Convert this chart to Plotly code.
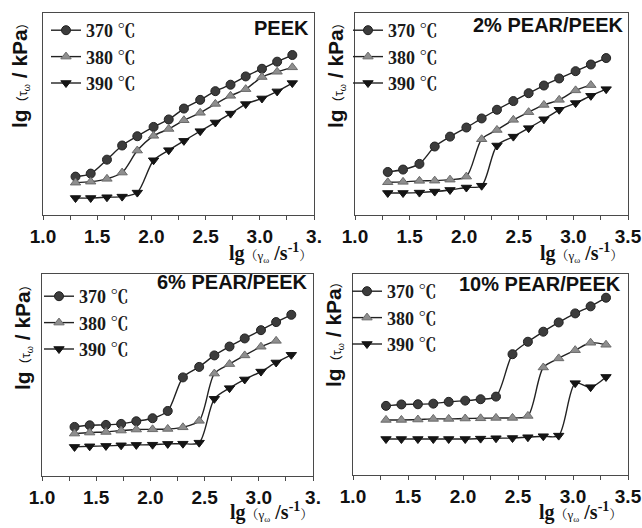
import plotly.graph_objects as go

# ---------------- data (y in arbitrary units 0-10) ----------------
x_lg = [1.30, 1.44, 1.59, 1.73, 1.87, 2.02, 2.16, 2.30, 2.45, 2.59, 2.73, 2.87, 3.02, 3.16, 3.30]

peek_370 = [1.90, 2.05, 2.74, 3.44, 3.90, 4.36, 4.73, 5.27, 5.70, 6.13, 6.45, 6.86, 7.24, 7.59, 7.92]
peek_380 = [1.60, 1.65, 1.79, 2.10, 3.19, 3.92, 4.26, 4.69, 5.06, 5.50, 5.90, 6.23, 6.83, 7.09, 7.31]
peek_390 = [0.84, 0.84, 0.88, 0.91, 1.11, 2.71, 3.21, 3.67, 4.15, 4.58, 5.02, 5.49, 5.77, 6.12, 6.53]

p2_370 = [2.13, 2.25, 2.53, 3.39, 3.88, 4.33, 4.78, 5.21, 5.64, 6.03, 6.41, 6.76, 7.12, 7.45, 7.77]
p2_380 = [1.62, 1.64, 1.69, 1.70, 1.75, 1.90, 3.75, 4.21, 4.71, 5.09, 5.45, 5.70, 6.17, 6.43]
p2_390 = [1.09, 1.09, 1.11, 1.16, 1.24, 1.36, 1.45, 3.44, 3.88, 4.30, 4.74, 5.21, 5.54, 5.90, 6.23]

p6_370 = [2.43, 2.51, 2.53, 2.58, 2.71, 2.86, 3.22, 4.88, 5.40, 5.97, 6.41, 6.81, 7.22, 7.62, 7.98]
p6_380 = [2.10, 2.15, 2.18, 2.25, 2.30, 2.31, 2.33, 2.41, 2.73, 5.07, 5.54, 5.97, 6.40, 6.69]
p6_390 = [1.44, 1.47, 1.49, 1.52, 1.54, 1.55, 1.59, 1.60, 1.65, 3.82, 4.35, 4.78, 5.17, 5.62, 6.00]

p10_370 = [3.44, 3.51, 3.52, 3.55, 3.64, 3.70, 3.77, 3.90, 6.01, 6.63, 7.13, 7.59, 8.04, 8.39, 8.82]
p10_380 = [2.74, 2.74, 2.76, 2.79, 2.79, 2.81, 2.82, 2.84, 2.84, 2.94, 5.35, 5.80, 6.21, 6.58, 6.48]
p10_390 = [1.79, 1.79, 1.79, 1.79, 1.79, 1.79, 1.81, 1.83, 1.84, 1.88, 1.93, 1.96, 4.57, 4.37, 4.88]

panel_titles = ["PEEK", "2% PEAR/PEEK", "6% PEAR/PEEK", "10% PEAR/PEEK"]
series_names = ["370 ℃", "380 ℃", "390 ℃"]
tick_vals = [1.0, 1.5, 2.0, 2.5, 3.0, 3.5]
tick_text_left = ["1.0", "1.5", "2.0", "2.5", "3.0", "3."]
tick_text_right = ["1.0", "1.5", "2.0", "2.5", "3.0", "3.5"]

panels = [
    (peek_370, peek_380, peek_390),
    (p2_370, p2_380, p2_390),
    (p6_370, p6_380, p6_390),
    (p10_370, p10_380, p10_390),
]

# ---------------- layout geometry (pixels) ----------------
W, H = 642, 528
def px(x):
    return x / W
def py(y):
    return 1 - y / H

# plot boxes: (left, right, top, bottom) in pixels
boxes = [(43, 314, 13, 215), (355, 628, 13, 215), (42, 313, 274, 476), (353, 628, 274, 475)]
legend_pos = [(46, 12), (348, 12), (39, 278), (347, 273)]
title_pos = [(311, 28), (626, 25), (310, 282), (623, 284)]
xtitle_pos = [(270, 252), (581, 252), (271, 511), (580, 511)]
ytitle_pos = [(20, 72), (336, 72), (23, 334), (334, 331)]

SANS = "Liberation Sans, Arial, Noto Sans CJK SC"
SERIF = "'Liberation Serif', 'Noto Serif CJK SC', 'Noto Sans CJK SC', serif"
INK = "#1a1a1a"
FRAME = "#4a4a4a"

styles = [
    dict(symbol="circle", size=9, color="#3c3c3c", line=dict(color="#222222", width=1)),
    dict(symbol="triangle-up", size=9, color="#8e8e8e", line=dict(color="#6a6a6a", width=1)),
    dict(symbol="triangle-down", size=9, color="#141414", line=dict(color="#141414", width=1)),
]

fig = go.Figure()
legend_names = ["legend", "legend2", "legend3", "legend4"]

for i, series in enumerate(panels):
    xa = "x" if i == 0 else f"x{i+1}"
    ya = "y" if i == 0 else f"y{i+1}"
    for j, yvals in enumerate(series):
        fig.add_trace(go.Scatter(
            x=x_lg[:len(yvals)], y=yvals, mode="lines+markers",
            name=series_names[j], xaxis=xa, yaxis=ya,
            line=dict(color="#222222", width=1.4, shape="spline", smoothing=0.8),
            marker=styles[j], legend=legend_names[i], showlegend=True,
        ))

layout = dict(
    width=W, height=H, margin=dict(l=0, r=0, t=0, b=0, autoexpand=False),
    paper_bgcolor="white", plot_bgcolor="white",
    annotations=[],
)

for i in range(4):
    l, r, t, b = boxes[i]
    xk = "xaxis" if i == 0 else f"xaxis{i+1}"
    yk = "yaxis" if i == 0 else f"yaxis{i+1}"
    ya_anchor = "y" if i == 0 else f"y{i+1}"
    xa_anchor = "x" if i == 0 else f"x{i+1}"
    layout[xk] = dict(
        domain=[px(l), px(r)], anchor=ya_anchor, range=[1.0, 3.5],
        tickvals=tick_vals,
        ticktext=tick_text_left if i in (0, 2) else tick_text_right,
        ticks="outside", ticklen=4, tickcolor=FRAME, tickwidth=1,
        minor=dict(dtick=0.25, tick0=1.0, ticks="outside", ticklen=4, tickcolor=FRAME),
        showline=True, mirror=True, linecolor=FRAME, linewidth=1.3,
        showgrid=False, zeroline=False, automargin=False,
        tickfont=dict(family=SANS, size=19, color="#111111", weight="bold"),
    )
    layout[yk] = dict(
        domain=[py(b), py(t)], anchor=xa_anchor, range=[0, 10],
        showticklabels=False, ticks="", showline=True, mirror=True,
        linecolor=FRAME, linewidth=1.3, showgrid=False, zeroline=False, automargin=False,
    )
    lx, ly = legend_pos[i]
    layout[legend_names[i]] = dict(
        x=px(lx), y=py(ly), xanchor="left", yanchor="top",
        bgcolor="rgba(0,0,0,0)", borderwidth=0, itemwidth=30,
        font=dict(family=SERIF, size=18, color=INK, weight="bold"), tracegroupgap=0,
    )
    tx, ty = title_pos[i]
    layout["annotations"].append(dict(
        text="<b>" + panel_titles[i] + "</b>", x=px(tx), y=py(ty), xref="paper", yref="paper",
        xanchor="right", yanchor="middle", showarrow=False,
        font=dict(family=SANS, size=20, color="#111111"),
    ))
    xx, xy = xtitle_pos[i]
    layout["annotations"].append(dict(
        text="<b>lg</b><span style='font-size:13px'>（γ<sub>ω</sub></span>"
             "<b> /s<sup>-1</sup></b><span style='font-size:13px'>）</span>",
        x=px(xx), y=py(xy), xref="paper", yref="paper",
        xanchor="center", yanchor="middle", showarrow=False,
        font=dict(family=SERIF, size=20, color="#111111"),
    ))
    yx, yy = ytitle_pos[i]
    layout["annotations"].append(dict(
        text="<b>lg</b><span style='font-size:13px'>（τ<sub>ω</sub></span>"
             "<b> / kPa</b><span style='font-size:13px'>）</span>",
        x=px(yx), y=py(yy), xref="paper", yref="paper", textangle=-90,
        xanchor="center", yanchor="middle", showarrow=False,
        font=dict(family=SANS, size=21, color="#111111"),
    ))

fig.update_layout(**layout)
fig.write_html(
    "out.html",
    config={"displayModeBar": False},
    post_script="document.body.style.margin='0';document.body.style.overflow='hidden';",
)
